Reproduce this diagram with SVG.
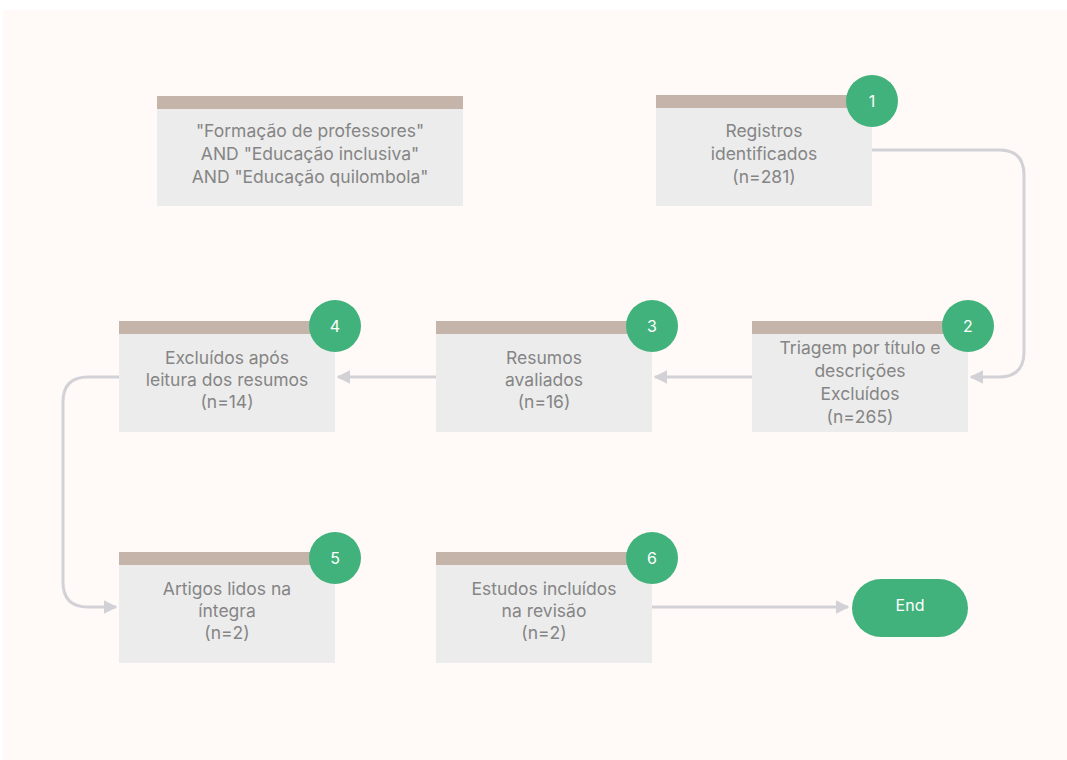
<svg xmlns="http://www.w3.org/2000/svg" width="1067" height="760" viewBox="0 0 1067 760">
<defs>
<style>
.box{fill:#ececec}
.hdr{fill:#c4b4a9}
.t{font-family:Inter,"Liberation Sans",sans-serif;font-size:17.5px;fill:#858585;text-anchor:middle}
.badge{fill:#41b27b}
.bt{font-family:Inter,"Liberation Sans",sans-serif;font-size:16px;fill:#ffffff;text-anchor:middle}
.c{fill:none;stroke:#d2d2d6;stroke-width:3}
</style>
<marker id="ah" viewBox="0 0 10 10" refX="9" refY="5" markerWidth="4.5" markerHeight="4.5" orient="auto">
<path d="M0,0 L10,5 L0,10 z" fill="#d2d2d6"/>
</marker>
</defs>
<rect x="0" y="0" width="1067" height="760" fill="#ffffff"/>
<rect x="3" y="10" width="1064" height="750" fill="#fffaf7"/>

<g id="connectors">
<path class="c" d="M872,150 H999 Q1024,150 1024,175 V352 Q1024,377 999,377 H971" marker-end="url(#ah)"/>
<path class="c" d="M752,377 H655" marker-end="url(#ah)"/>
<path class="c" d="M436,377 H338" marker-end="url(#ah)"/>
<path class="c" d="M119,377 H88 Q63,377 63,402 V582 Q63,607 88,607 H116" marker-end="url(#ah)"/>
<path class="c" d="M651,607 H848" marker-end="url(#ah)"/>
</g>

<g id="query">
<rect class="box" x="157" y="96" width="306" height="110"/>
<rect class="hdr" x="157" y="96" width="306" height="13"/>
<text class="t" x="310" y="137">"Formação de professores"</text>
<text class="t" x="310" y="160">AND "Educação inclusiva"</text>
<text class="t" x="310" y="183">AND "Educação quilombola"</text>
</g>

<g id="n1">
<rect class="box" x="656" y="95" width="216" height="111"/>
<rect class="hdr" x="656" y="95" width="216" height="13"/>
<text class="t" x="764" y="137">Registros</text>
<text class="t" x="764" y="160">identificados</text>
<text class="t" x="764" y="183">(n=281)</text>
<circle class="badge" cx="872" cy="101" r="26"/>
<text class="bt" x="872" y="107">1</text>
</g>

<g id="n2">
<rect class="box" x="752" y="321" width="216" height="111"/>
<rect class="hdr" x="752" y="321" width="216" height="13"/>
<text class="t" x="860" y="354">Triagem por título e</text>
<text class="t" x="860" y="377">descrições</text>
<text class="t" x="860" y="400">Excluídos</text>
<text class="t" x="860" y="423">(n=265)</text>
<circle class="badge" cx="968" cy="326" r="26"/>
<text class="bt" x="968" y="332">2</text>
</g>

<g id="n3">
<rect class="box" x="436" y="321" width="216" height="111"/>
<rect class="hdr" x="436" y="321" width="216" height="13"/>
<text class="t" x="544" y="364">Resumos</text>
<text class="t" x="544" y="386">avaliados</text>
<text class="t" x="544" y="408">(n=16)</text>
<circle class="badge" cx="652" cy="326" r="26"/>
<text class="bt" x="652" y="332">3</text>
</g>

<g id="n4">
<rect class="box" x="119" y="321" width="216" height="111"/>
<rect class="hdr" x="119" y="321" width="216" height="13"/>
<text class="t" x="227" y="364">Excluídos após</text>
<text class="t" x="227" y="386">leitura dos resumos</text>
<text class="t" x="227" y="408">(n=14)</text>
<circle class="badge" cx="335" cy="326" r="26"/>
<text class="bt" x="335" y="332">4</text>
</g>

<g id="n5">
<rect class="box" x="119" y="552" width="216" height="111"/>
<rect class="hdr" x="119" y="552" width="216" height="13"/>
<text class="t" x="227" y="595">Artigos lidos na</text>
<text class="t" x="227" y="617">íntegra</text>
<text class="t" x="227" y="639">(n=2)</text>
<circle class="badge" cx="335" cy="558" r="26"/>
<text class="bt" x="335" y="564">5</text>
</g>

<g id="n6">
<rect class="box" x="436" y="552" width="216" height="111"/>
<rect class="hdr" x="436" y="552" width="216" height="13"/>
<text class="t" x="544" y="595">Estudos incluídos</text>
<text class="t" x="544" y="617">na revisão</text>
<text class="t" x="544" y="639">(n=2)</text>
<circle class="badge" cx="652" cy="558" r="26"/>
<text class="bt" x="652" y="564">6</text>
</g>

<g id="end">
<rect class="badge" x="852" y="579" width="116" height="58" rx="29"/>
<text class="bt" x="910" y="611">End</text>
</g>
</svg>
